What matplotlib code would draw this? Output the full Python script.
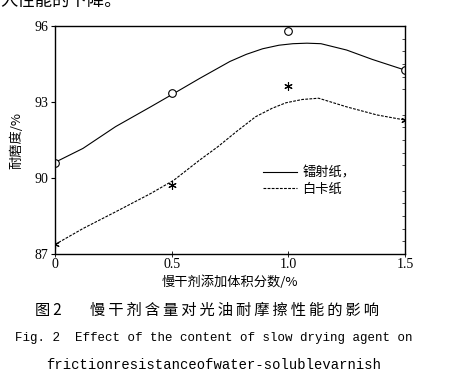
import numpy as np
import matplotlib.pyplot as plt
from matplotlib.ticker import MultipleLocator

plt.rcParams['font.family'] = ['Liberation Serif', 'Noto Sans CJK SC']

# measured points
x_pts = [0, 0.5, 1.0, 1.5]
laser_pts = [90.6, 93.37, 95.8, 94.26]
card_pts = [87.4, 89.72, 93.64, 92.29]

# fitted curves
laser_x = [0, 0.12, 0.26, 0.41, 0.51, 0.62, 0.75, 0.82, 0.89, 0.96, 1.02, 1.08, 1.14, 1.25, 1.36, 1.5]
laser_y = [90.62, 91.17, 92.03, 92.81, 93.34, 93.93, 94.6, 94.88, 95.1, 95.24, 95.3, 95.32, 95.3, 95.05, 94.68, 94.26]
card_x = [0, 0.12, 0.26, 0.41, 0.51, 0.62, 0.70, 0.78, 0.86, 0.93, 0.99, 1.06, 1.13, 1.25, 1.38, 1.5]
card_y = [87.38, 88.01, 88.67, 89.39, 89.92, 90.71, 91.25, 91.85, 92.42, 92.75, 92.97, 93.1, 93.15, 92.81, 92.49, 92.29]

x_ticks = [0, 0.5, 1.0, 1.5]
x_ticklabels = ['0', '0.5', '1.0', '1.5']
y_ticks = [87, 90, 93, 96]

fig = plt.figure(figsize=(4.54, 3.76), dpi=100)
ax = fig.add_axes([0.121, 0.324, 0.771, 0.607])

ax.plot(laser_x, laser_y, color='black', lw=0.8, label='镭射纸，')
ax.plot(card_x, card_y, color='black', lw=0.8, linestyle=(0, (2.5, 1.2)), label='白卡纸')
ax.plot(x_pts, laser_pts, linestyle='none', marker='o', ms=5.5, mfc='white', mec='black', mew=0.8)
ax.plot(x_pts, card_pts, linestyle='none', marker=(6, 2, 0), ms=6, color='black', mew=0.8)

ax.set_xlim(0, 1.5)
ax.set_ylim(87, 96)
ax.set_xticks(x_ticks)
ax.set_xticklabels(x_ticklabels)
ax.set_yticks(y_ticks)
ax.tick_params(axis='y', direction='out', length=3, width=0.8, labelsize=10, pad=2)
ax.tick_params(axis='x', direction='inout', length=4, width=0.6, labelsize=10, pad=1)
ax.yaxis.set_minor_locator(MultipleLocator(0.5))
ax.tick_params(axis='y', which='minor', left=False, right=True, direction='in', length=2, width=0.5)
for s in ax.spines.values():
    s.set_linewidth(1.0)

ax.set_xlabel('慢干剂添加体积分数/%', family=['Noto Sans CJK SC'], fontsize=9.5, labelpad=3)
ax.set_ylabel('耐磨度/%', family=['Noto Sans CJK SC'], fontsize=9.5, labelpad=8)

ax.legend(loc='center left', bbox_to_anchor=(0.56, 0.32), frameon=False,
          handlelength=2.6, handletextpad=0.4, labelspacing=0.25,
          prop={'family': ['Noto Sans CJK SC'], 'size': 9.5})

cjk = ['Noto Sans CJK SC', 'DejaVu Sans']
fig.text(0.0, 0.998, '人性能的下降。', family=cjk, fontsize=12.5, va='center', ha='left')
caption = '\u2009'.join('慢干剂含量对光油耐摩擦性能的影响')
fig.text(0.077, 0.175, '图\u20092', family=cjk, fontsize=11, ha='left', va='center')
fig.text(0.198, 0.175, caption, family=cjk, fontsize=11, ha='left', va='center')
fig.text(0.47, 0.10, 'Fig. 2  Effect of the content of slow drying agent on', family=['Liberation Mono'],
         fontsize=9.0, ha='center', va='center')
fig.text(0.47, 0.03, 'frictionresistanceofwater-solublevarnish', family=['Liberation Mono'],
         fontsize=10.0, ha='center', va='center')

fig.savefig('out.png', dpi=100)
